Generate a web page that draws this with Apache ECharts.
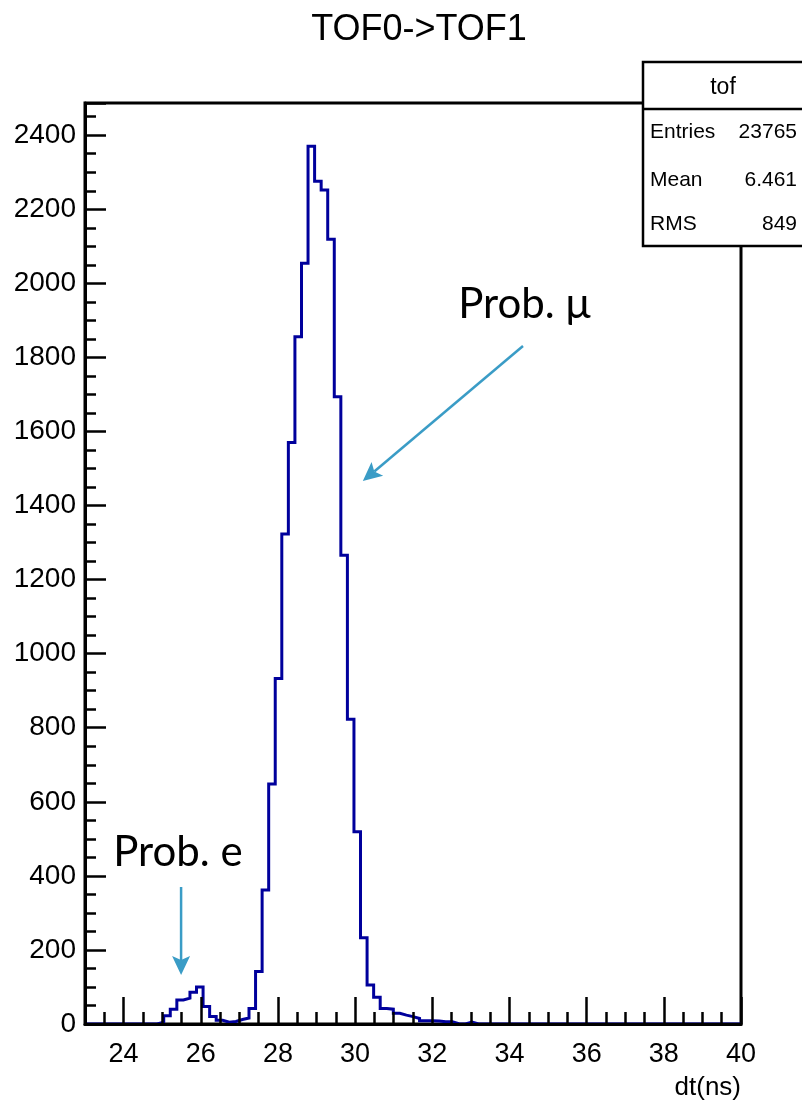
<!DOCTYPE html>
<html>
<head>
<meta charset="utf-8">
<script src="https://cdn.jsdelivr.net/npm/echarts@6/dist/echarts.min.js"></script>
<style>
  html, body { margin: 0; padding: 0; background: #ffffff; }
  #main { width: 802px; height: 1102px; }
</style>
</head>
<body>
<div id="main"></div>
<script>
// Histogram "tof": time of flight TOF0 -> TOF1, 100 bins over [23, 40] ns
const binLow = 23;
const binHigh = 40;
const nBins = 100;
const counts = [
  0, 0, 0, 0, 0, 0, 0, 0, 0, 0,
  0, 5, 22, 40, 65, 70, 86, 100, 47, 20,
  10, 5, 7, 12, 16, 42, 142, 362, 648, 933,
  1323, 1570, 1856, 2054, 2370, 2276, 2252, 2119, 1694, 1266,
  823, 519, 233, 105, 72, 42, 40, 29, 24, 20,
  15, 9, 9, 8, 6, 6, 1, 0, 5, 0,
  0, 0, 0, 0, 0, 0, 0, 0, 0, 0,
  0, 0, 0, 0, 0, 0, 0, 0, 0, 0,
  0, 0, 0, 0, 0, 0, 0, 0, 0, 0,
  0, 0, 0, 0, 0, 0, 0, 0, 0, 0
];
const yMax = 2487;

// Axis tick labels
const xTickLabels = ['24', '26', '28', '30', '32', '34', '36', '38', '40'];
const yTickLabels = ['0', '200', '400', '600', '800', '1000', '1200', '1400',
                     '1600', '1800', '2000', '2200', '2400'];

// Texts
const titleText = 'TOF0->TOF1';
const xAxisTitle = 'dt(ns)';
const statsName = 'tof';
const statsRows = [['Entries', '23765'], ['Mean', '6.461'], ['RMS', '849']];

// Annotations, placed in data coordinates (dt, counts)
const annotations = [
  { text: 'Prob. \u03bc', at: [32.67, 1943], from: [34.35, 1831], to: [30.2, 1466] },
  { text: 'Prob. e', at: [23.73, 464], from: [25.49, 370], to: [25.49, 132] }
];

const binWidth = (binHigh - binLow) / nBins;
const histData = counts.map((c, k) => [+(binLow + k * binWidth).toFixed(4), c]);
histData.push([binHigh, counts[nBins - 1]]);

const axisFont = 'Liberation Sans, Arial, sans-serif';
const black = '#000000';
const histColor = '#00009c';
const noteColor = '#3a9cc6';

const chart = echarts.init(document.getElementById('main'), null, { renderer: 'canvas' });

chart.setOption({
  animation: false,
  backgroundColor: '#ffffff',
  grid: [
    { left: 85, right: 61, top: 103, bottom: 78, show: true,
      borderColor: black, borderWidth: 3, backgroundColor: 'rgba(0,0,0,0)' },
    { left: 85 + 656 / 17, right: 61, top: 103, bottom: 78 }
  ],
  xAxis: [
    { // minor ticks every 0.5 ns, carries the histogram
      gridIndex: 0, type: 'value', position: 'bottom', min: binLow, max: binHigh, interval: 0.5,
      z: 5,
      axisLine: { show: true, lineStyle: { color: black, width: 3 } },
      axisTick: { show: true, inside: true, length: 12, lineStyle: { color: black, width: 2.5 } },
      axisLabel: { show: false },
      splitLine: { show: false }
    },
    { // major ticks and labels every 2 ns
      gridIndex: 1, type: 'value', position: 'bottom', min: 24, max: binHigh, interval: 2,
      z: 5,
      axisLine: { show: false },
      axisTick: { show: true, inside: true, length: 27, lineStyle: { color: black, width: 2.5 } },
      axisLabel: {
        show: true, margin: 17, color: black, fontSize: 27, fontFamily: axisFont,
        formatter: v => (xTickLabels.includes(String(v)) ? String(v) : '')
      },
      splitLine: { show: false }
    }
  ],
  yAxis: [
    { // major ticks and labels every 200
      gridIndex: 0, type: 'value', position: 'left', min: 0, max: yMax, interval: 200,
      z: 5,
      axisLine: { show: true, lineStyle: { color: black, width: 3 } },
      axisTick: { show: true, inside: true, length: 21, lineStyle: { color: black, width: 2.5 } },
      axisLabel: {
        show: true, margin: 9, color: black, fontSize: 28, fontFamily: axisFont,
        formatter: v => (yTickLabels.includes(String(v)) ? String(v) : '')
      },
      splitLine: { show: false }
    },
    { // minor ticks every 50
      gridIndex: 0, type: 'value', position: 'left', min: 0, max: yMax, interval: 50,
      z: 5,
      axisLine: { show: false },
      axisTick: { show: true, inside: true, length: 11, lineStyle: { color: black, width: 2.5 } },
      axisLabel: { show: false },
      splitLine: { show: false }
    },
    { gridIndex: 1, type: 'value', show: false, min: 0, max: yMax }
  ],
  series: [{
    name: statsName,
    type: 'line',
    xAxisIndex: 0,
    yAxisIndex: 0,
    step: 'end',
    data: histData,
    showSymbol: false,
    symbol: 'none',
    silent: true,
    z: 1,
    lineStyle: { color: histColor, width: 3, join: 'miter', cap: 'butt' }
  }]
});

// Overlay: title, statistics box, axis title and the two annotations
function px(p) { return chart.convertToPixel({ gridIndex: 0 }, p); }

const graphics = [];

graphics.push({
  type: 'text', x: 419, y: 30, z: 20,
  style: { text: titleText, fill: black, font: '36px ' + axisFont, align: 'center', verticalAlign: 'middle' }
});

graphics.push({
  type: 'text', x: 741, y: 1088, z: 20,
  style: { text: xAxisTitle, fill: black, font: '26px ' + axisFont, align: 'right', verticalAlign: 'middle' }
});

// statistics box
graphics.push({
  type: 'rect', z: 30,
  shape: { x: 643, y: 62, width: 200, height: 184 },
  style: { fill: '#ffffff', stroke: black, lineWidth: 2.5 }
});
graphics.push({
  type: 'line', z: 31,
  shape: { x1: 643, y1: 109, x2: 810, y2: 109 },
  style: { stroke: black, lineWidth: 2.5 }
});
graphics.push({
  type: 'text', x: 723, y: 88, z: 32,
  style: { text: statsName, fill: black, font: '23px ' + axisFont, align: 'center', verticalAlign: 'middle' }
});
const rowY = [132, 180, 224];
statsRows.forEach((row, i) => {
  graphics.push({
    type: 'text', x: 650, y: rowY[i], z: 32,
    style: { text: row[0], fill: black, font: '21px ' + axisFont, align: 'left', verticalAlign: 'middle' }
  });
  graphics.push({
    type: 'text', x: 797, y: rowY[i], z: 32,
    style: { text: row[1], fill: black, font: '21px ' + axisFont, align: 'right', verticalAlign: 'middle' }
  });
});

// annotation arrows and labels
annotations.forEach(a => {
  const p0 = px(a.from);
  const p1 = px(a.to);
  const dx = p1[0] - p0[0], dy = p1[1] - p0[1];
  const len = Math.hypot(dx, dy);
  const ux = dx / len, uy = dy / len;
  const headLen = 19, headHalf = 9;
  const bx = p1[0] - ux * headLen, by = p1[1] - uy * headLen;
  const nx = bx + ux * 4, ny = by + uy * 4;
  graphics.push({
    type: 'line', z: 15,
    shape: { x1: p0[0], y1: p0[1], x2: nx, y2: ny },
    style: { stroke: noteColor, lineWidth: 2.5 }
  });
  graphics.push({
    type: 'polygon', z: 15,
    shape: { points: [
      [p1[0], p1[1]],
      [bx - uy * headHalf, by + ux * headHalf],
      [nx, ny],
      [bx + uy * headHalf, by - ux * headHalf]
    ] },
    style: { fill: noteColor }
  });
  const t = px(a.at);
  graphics.push({
    type: 'text', x: t[0], y: t[1], z: 15,
    style: { text: a.text, fill: black, font: '42px Lato, "Open Sans", sans-serif', align: 'left', verticalAlign: 'middle' }
  });
});

chart.setOption({ graphic: graphics });
</script>
</body>
</html>
